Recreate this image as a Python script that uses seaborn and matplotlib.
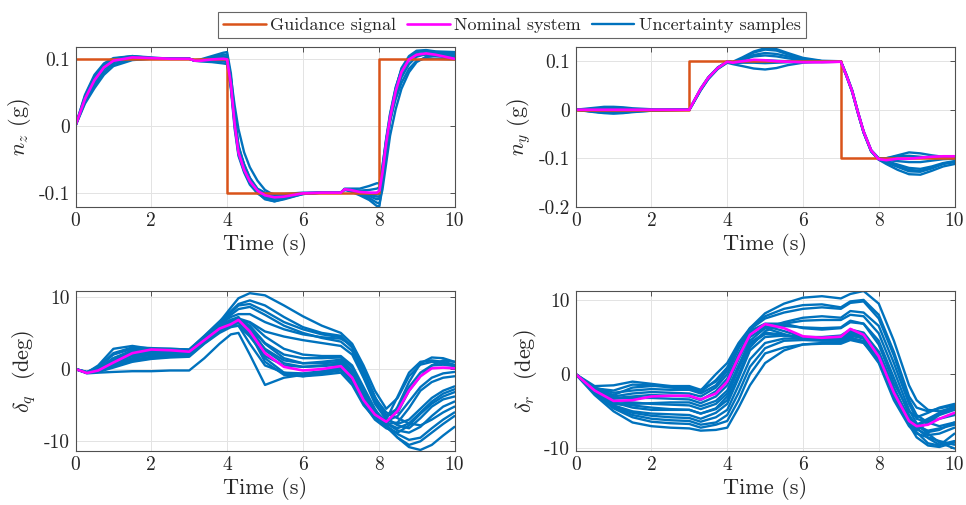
import matplotlib
matplotlib.use("Agg")
import matplotlib.pyplot as plt
from matplotlib.lines import Line2D
import pandas as pd
import seaborn as sns

# ---------------- data ----------------
# normal acceleration n_z (g)
T_NZ = [0, 0.25, 0.5, 0.75, 1.0, 1.5, 2.0, 2.5, 3.0, 3.15,
        3.3, 3.6, 3.9, 4.0, 4.1, 4.2, 4.3, 4.45, 4.6, 4.8,
        5.0, 5.25, 5.5, 6.0, 6.5, 7.0, 7.1, 7.25, 7.5, 7.75,
        7.95, 8.02, 8.1, 8.2, 8.3, 8.45, 8.6, 8.8, 9.0, 9.25,
        9.5, 10.0]
NZ_GUIDE_T = [0, 4, 4, 8, 8, 10]
NZ_GUIDE = [0.1, 0.1, -0.1, -0.1, 0.1, 0.1]
NZ_NOMINAL = [0, 0.040, 0.068, 0.087, 0.097, 0.102, 0.101, 0.100, 0.100, 0.097,
              0.097, 0.099, 0.100, 0.099, 0.062, 0.002, -0.040, -0.066, -0.083, -0.097,
              -0.104, -0.107, -0.106, -0.101, -0.100, -0.100, -0.095, -0.096, -0.099, -0.100,
              -0.100, -0.097, -0.070, -0.025, 0.012, 0.052, 0.080, 0.099, 0.106, 0.108,
              0.106, 0.100]
NZ_SAMPLES = [
    [0, 0.046, 0.076, 0.093, 0.101, 0.104, 0.101, 0.100, 0.100, 0.098,
     0.099, 0.104, 0.109, 0.110, 0.078, 0.015, -0.030, -0.060, -0.082, -0.100,
     -0.110, -0.113, -0.109, -0.102, -0.100, -0.100, -0.096, -0.098, -0.104, -0.111,
     -0.120, -0.120, -0.085, -0.035, 0.010, 0.055, 0.086, 0.104, 0.112, 0.113,
     0.111, 0.110],
    [0, 0.035, 0.060, 0.080, 0.092, 0.099, 0.100, 0.100, 0.100, 0.097,
     0.096, 0.095, 0.093, 0.092, 0.058, 0.005, -0.035, -0.058, -0.078, -0.094,
     -0.100, -0.102, -0.102, -0.100, -0.100, -0.100, -0.094, -0.094, -0.094, -0.090,
     -0.086, -0.086, -0.060, -0.020, 0.010, 0.040, 0.064, 0.085, 0.097, 0.101,
     0.100, 0.099],
    [0, 0.042, 0.070, 0.089, 0.099, 0.103, 0.101, 0.100, 0.100, 0.097,
     0.098, 0.101, 0.103, 0.103, 0.066, 0.006, -0.036, -0.064, -0.082, -0.098,
     -0.106, -0.109, -0.107, -0.101, -0.100, -0.100, -0.095, -0.097, -0.101, -0.105,
     -0.110, -0.109, -0.077, -0.030, 0.008, 0.050, 0.078, 0.098, 0.107, 0.109,
     0.108, 0.104],
    [0, 0.038, 0.064, 0.084, 0.095, 0.101, 0.101, 0.100, 0.100, 0.097,
     0.097, 0.097, 0.096, 0.095, 0.055, -0.005, -0.045, -0.070, -0.088, -0.101,
     -0.108, -0.110, -0.108, -0.101, -0.100, -0.100, -0.095, -0.095, -0.097, -0.096,
     -0.094, -0.092, -0.062, -0.018, 0.018, 0.058, 0.083, 0.100, 0.106, 0.106,
     0.104, 0.101],
    [0, 0.033, 0.056, 0.076, 0.089, 0.098, 0.100, 0.100, 0.100, 0.097,
     0.098, 0.100, 0.102, 0.101, 0.072, 0.030, -0.005, -0.040, -0.062, -0.082,
     -0.096, -0.104, -0.106, -0.102, -0.100, -0.100, -0.095, -0.097, -0.102, -0.108,
     -0.115, -0.116, -0.095, -0.055, -0.015, 0.025, 0.055, 0.080, 0.095, 0.103,
     0.105, 0.104],
    [0, 0.044, 0.073, 0.091, 0.100, 0.104, 0.102, 0.100, 0.100, 0.097,
     0.097, 0.098, 0.099, 0.098, 0.060, 0.000, -0.042, -0.068, -0.086, -0.100,
     -0.109, -0.113, -0.110, -0.102, -0.100, -0.100, -0.095, -0.096, -0.099, -0.101,
     -0.103, -0.101, -0.068, -0.022, 0.016, 0.056, 0.084, 0.102, 0.110, 0.112,
     0.110, 0.107],
    [0, 0.040, 0.066, 0.085, 0.096, 0.101, 0.100, 0.100, 0.100, 0.097,
     0.098, 0.102, 0.106, 0.106, 0.070, 0.012, -0.030, -0.058, -0.078, -0.095,
     -0.103, -0.105, -0.104, -0.101, -0.100, -0.100, -0.095, -0.096, -0.100, -0.103,
     -0.106, -0.106, -0.075, -0.028, 0.005, 0.045, 0.072, 0.092, 0.103, 0.107,
     0.108, 0.106],
]

# lateral acceleration n_y (g)
T_NY = [0, 0.5, 0.75, 1.0, 1.25, 1.5, 2.0, 2.5, 3.0, 3.15,
        3.3, 3.5, 3.75, 4.0, 4.15, 4.4, 4.7, 5.0, 5.3, 5.6,
        6.0, 6.5, 7.0, 7.15, 7.3, 7.45, 7.6, 7.8, 8.0, 8.2,
        8.5, 8.8, 9.1, 9.4, 9.7, 10.0]
NY_GUIDE_T = [0, 3, 3, 7, 7, 10]
NY_GUIDE = [0.0, 0.0, 0.1, 0.1, -0.1, -0.1]
NY_NOMINAL = [0, 0, 0, 0, 0, 0, 0, 0, 0, 0.022,
              0.043, 0.066, 0.086, 0.099, 0.097, 0.100, 0.103, 0.102, 0.100, 0.099,
              0.098, 0.098, 0.099, 0.070, 0.038, -0.005, -0.045, -0.084, -0.102, -0.104,
              -0.101, -0.101, -0.099, -0.097, -0.096, -0.096]
NY_SAMPLES = [
    [0, 0.004, 0.006, 0.006, 0.005, 0.003, 0.001, 0, 0, 0.021,
     0.042, 0.066, 0.087, 0.100, 0.099, 0.108, 0.120, 0.127, 0.125, 0.117,
     0.107, 0.101, 0.100, 0.072, 0.040, -0.004, -0.044, -0.083, -0.100, -0.100,
     -0.094, -0.088, -0.090, -0.094, -0.097, -0.098],
    [0, -0.004, -0.006, -0.007, -0.006, -0.004, -0.002, -0.001, 0, 0.020,
     0.040, 0.063, 0.084, 0.097, 0.094, 0.090, 0.085, 0.083, 0.086, 0.092,
     0.097, 0.099, 0.100, 0.071, 0.039, -0.006, -0.047, -0.086, -0.103, -0.112,
     -0.124, -0.133, -0.134, -0.126, -0.117, -0.112],
    [0, -0.003, -0.005, -0.005, -0.004, -0.003, -0.001, 0, 0, 0.022,
     0.044, 0.067, 0.087, 0.099, 0.098, 0.104, 0.113, 0.117, 0.115, 0.110,
     0.104, 0.100, 0.099, 0.069, 0.037, -0.006, -0.046, -0.085, -0.101, -0.106,
     -0.113, -0.120, -0.122, -0.117, -0.110, -0.106],
    [0, 0.002, 0.003, 0.003, 0.002, 0.001, 0, 0, 0, 0.021,
     0.042, 0.065, 0.086, 0.099, 0.098, 0.100, 0.102, 0.102, 0.101, 0.100,
     0.099, 0.098, 0.099, 0.070, 0.038, -0.005, -0.045, -0.084, -0.101, -0.100,
     -0.096, -0.095, -0.097, -0.099, -0.100, -0.100],
    [0, -0.005, -0.007, -0.008, -0.007, -0.005, -0.002, -0.001, 0, 0.020,
     0.041, 0.064, 0.085, 0.098, 0.097, 0.106, 0.118, 0.124, 0.122, 0.114,
     0.105, 0.100, 0.099, 0.069, 0.036, -0.007, -0.047, -0.086, -0.103, -0.109,
     -0.118, -0.127, -0.128, -0.121, -0.112, -0.108],
    [0, -0.002, -0.004, -0.004, -0.003, -0.002, -0.001, 0, 0, 0.022,
     0.043, 0.066, 0.086, 0.098, 0.096, 0.097, 0.097, 0.096, 0.097, 0.098,
     0.099, 0.099, 0.099, 0.070, 0.038, -0.005, -0.046, -0.085, -0.102, -0.104,
     -0.106, -0.108, -0.108, -0.105, -0.102, -0.101],
    [0, -0.004, -0.006, -0.006, -0.005, -0.003, -0.001, 0, 0, 0.021,
     0.042, 0.065, 0.086, 0.099, 0.098, 0.103, 0.110, 0.112, 0.110, 0.106,
     0.102, 0.100, 0.099, 0.070, 0.037, -0.006, -0.046, -0.085, -0.102, -0.107,
     -0.116, -0.124, -0.126, -0.120, -0.111, -0.107],
]

# pitch fin deflection delta_q (deg)
T_DQ = [0, 0.3, 0.6, 1.0, 1.5, 2.0, 2.5, 3.0, 3.4, 3.8,
        4.1, 4.3, 4.6, 5.0, 5.5, 6.0, 6.5, 7.0, 7.3, 7.6,
        7.9, 8.2, 8.5, 8.8, 9.1, 9.4, 9.7, 10.0]
DQ_NOMINAL = [0, -0.55, -0.2, 0.9, 2.2, 2.7, 2.6, 2.4, 4.0, 5.6,
              6.2, 6.8, 5.2, 2.2, 0.3, -0.2, 0.0, 0.4, -1.2, -4.3,
              -6.3, -7.3, -5.8, -3.0, -1.0, 0.1, 0.2, 0.1]
DQ_SAMPLES = [
    [0, -0.4, 0.3, 2.2, 3.0, 2.9, 2.8, 2.7, 4.5, 6.5, 8.5, 9.8, 10.5, 10.2, 8.8, 7.3, 6.0, 5.0, 3.5, 0.5, -3.0, -5.5, -4.0, -1.0, 0.6, 1.0, 0.8, 0.5],
    [0, -0.5, 0.0, 1.5, 2.6, 2.8, 2.8, 2.7, 4.6, 6.6, 8.0, 9.0, 9.5, 8.8, 7.2, 5.8, 5.0, 4.6, 3.0, -0.5, -4.0, -6.0, -6.8, -7.5, -7.8, -7.0, -6.0, -5.2],
    [0, -0.5, -0.2, 1.0, 2.0, 2.3, 2.4, 2.3, 4.2, 6.0, 7.5, 8.3, 8.6, 7.5, 6.0, 5.0, 4.3, 3.8, 2.5, -1.0, -4.5, -6.5, -6.0, -3.0, -1.0, 0.5, 1.2, 1.0],
    [0, -0.6, -0.5, -0.4, -0.3, -0.3, -0.2, -0.2, 1.5, 3.5, 4.8, 5.0, 2.0, -2.2, -1.2, -0.8, -0.4, 0.0, -1.5, -4.5, -6.8, -8.0, -9.5, -10.8, -11.2, -10.5, -9.2, -8.0],
    [0, -0.5, 0.5, 2.8, 3.2, 2.8, 2.6, 2.5, 4.0, 5.8, 6.2, 6.0, 3.5, 0.5, -0.5, -0.6, -0.3, 0.2, -1.5, -4.6, -6.8, -7.8, -5.2, -1.8, 0.8, 1.6, 1.5, 1.0],
    [0, -0.5, -0.3, 0.6, 1.5, 2.0, 2.2, 2.2, 3.8, 5.3, 6.0, 6.5, 5.8, 3.5, 1.5, 0.8, 0.8, 1.0, -0.5, -3.5, -6.0, -7.5, -8.5, -8.8, -8.0, -6.5, -5.2, -4.5],
    [0, -0.5, -0.4, 0.2, 1.0, 1.4, 1.6, 1.7, 3.5, 5.0, 5.8, 6.0, 4.5, 1.8, 0.5, 0.3, 0.5, 0.8, -0.8, -4.0, -6.5, -7.8, -9.0, -9.8, -9.5, -8.2, -7.0, -6.0],
    [0, -0.5, -0.1, 1.2, 2.3, 2.5, 2.5, 2.4, 4.3, 6.0, 6.8, 7.0, 6.5, 5.2, 4.5, 4.0, 3.6, 3.2, 2.0, -1.2, -4.8, -7.0, -7.6, -7.0, -5.5, -4.0, -3.0, -2.4],
    [0, -0.5, -0.3, 0.8, 1.8, 2.2, 2.3, 2.2, 4.0, 5.7, 6.5, 6.9, 6.0, 3.6, 2.0, 1.5, 1.5, 1.6, 0.2, -3.0, -5.8, -7.2, -6.5, -4.5, -2.5, -1.2, -0.6, -0.4],
    [0, -0.5, -0.2, 1.0, 1.8, 1.9, 2.0, 2.0, 3.8, 5.5, 6.3, 6.4, 4.8, 1.5, -0.5, -1.0, -0.8, -0.5, -2.2, -5.0, -6.8, -7.0, -3.8, -0.5, 1.0, 1.2, 1.0, 0.6],
    [0, -0.5, -0.3, 0.5, 1.3, 1.7, 1.9, 2.0, 3.6, 5.2, 6.1, 6.6, 5.4, 2.8, 1.2, 0.8, 1.0, 1.3, -0.2, -3.2, -6.0, -7.5, -8.2, -7.5, -6.0, -4.5, -3.4, -2.8],
    [0, -0.4, 0.0, 1.5, 2.4, 2.7, 2.7, 2.6, 4.4, 6.2, 7.2, 7.6, 7.6, 6.5, 5.5, 4.8, 4.4, 4.2, 3.3, 0.0, -4.0, -6.4, -5.5, -2.5, -0.5, 0.5, 0.6, 0.4],
    [0, -0.5, -0.2, 1.3, 2.4, 2.6, 2.6, 2.5, 4.2, 5.9, 6.8, 7.2, 5.0, 1.0, -0.8, -1.0, -0.6, -0.2, -1.8, -4.8, -7.0, -8.2, -8.8, -7.8, -6.2, -4.8, -3.8, -3.2],
    [0, -0.5, 0.2, 2.0, 2.8, 2.7, 2.6, 2.5, 4.3, 6.2, 7.8, 8.8, 9.0, 8.0, 6.5, 5.5, 4.8, 4.4, 3.0, -0.2, -3.8, -6.8, -7.8, -8.2, -6.8, -5.2, -4.2, -3.8],
    [0, -0.5, -0.1, 1.1, 2.1, 2.4, 2.4, 2.3, 4.1, 5.8, 6.6, 7.0, 5.8, 2.6, 0.8, 0.3, 0.4, 0.6, -1.0, -4.0, -6.6, -7.6, -7.4, -5.4, -3.0, -1.8, -1.2, -1.0],
    [0, -0.5, -0.3, 0.4, 1.1, 1.5, 1.7, 1.8, 3.6, 5.3, 6.3, 6.8, 6.4, 4.5, 2.8, 2.0, 1.8, 1.8, 0.5, -2.5, -5.5, -7.8, -9.5, -10.5, -10.0, -8.8, -7.6, -6.5],
]

# yaw fin deflection delta_r (deg)
T_DR = [0, 0.5, 1.0, 1.5, 2.0, 2.5, 3.0, 3.3, 3.7, 4.0,
        4.3, 4.6, 5.0, 5.5, 6.0, 6.5, 7.0, 7.25, 7.6, 8.0,
        8.4, 8.8, 9.0, 9.3, 9.6, 10.0]
DR_NOMINAL = [0, -2.2, -3.6, -3.5, -3.0, -2.9, -2.9, -3.4, -2.6, -1.0,
              2.3, 5.3, 6.75, 6.2, 5.1, 4.9, 5.05, 6.1, 5.3, 2.4,
              -2.5, -6.3, -7.0, -6.8, -6.0, -5.2]
DR_SAMPLES = [
    [0, -1.8, -2.5, -2.2, -2.0, -2.1, -2.1, -2.6, -1.5, 0.5, 3.5, 6.2, 8.2, 9.5, 10.3, 10.5, 10.2, 10.8, 11.2, 9.5, 4.5, -1.5, -3.5, -4.8, -5.0, -4.5],
    [0, -1.6, -1.5, -1.0, -1.3, -1.6, -1.8, -2.2, 0.0, 1.5, 4.2, 6.2, 7.8, 8.8, 9.3, 9.4, 9.0, 9.8, 10.0, 8.0, 3.0, -3.0, -4.5, -5.0, -4.6, -4.2],
    [0, -2.5, -4.5, -5.5, -6.0, -6.2, -6.3, -6.8, -6.5, -5.5, -2.5, 1.0, 3.5, 4.5, 4.6, 4.5, 4.5, 5.0, 4.3, 1.5, -3.5, -7.0, -8.0, -8.5, -9.0, -9.5],
    [0, -2.8, -5.0, -6.5, -7.0, -7.2, -7.3, -7.6, -7.5, -7.2, -4.5, -1.5, 1.5, 3.2, 4.0, 4.2, 4.3, 4.8, 4.5, 2.0, -2.5, -5.8, -6.8, -8.0, -9.2, -10.0],
    [0, -2.3, -3.8, -4.5, -4.8, -4.8, -4.8, -5.3, -4.6, -3.0, 0.8, 4.2, 5.6, 5.3, 4.8, 4.7, 4.7, 5.5, 5.0, 2.2, -3.0, -6.8, -7.5, -6.5, -5.5, -4.8],
    [0, -2.0, -3.0, -2.6, -2.4, -2.5, -2.6, -3.0, -1.8, 0.0, 3.5, 5.8, 6.8, 6.8, 6.2, 6.0, 6.2, 7.0, 6.8, 4.5, -0.5, -5.5, -7.0, -7.6, -7.3, -6.8],
    [0, -2.4, -4.2, -5.0, -5.3, -5.4, -5.5, -6.0, -5.2, -4.0, -0.5, 3.2, 5.0, 5.2, 5.0, 4.9, 4.9, 5.6, 5.2, 2.6, -2.0, -6.0, -7.2, -8.6, -9.5, -9.0],
    [0, -2.1, -3.3, -3.2, -3.2, -3.3, -3.4, -3.9, -3.0, -1.5, 2.0, 5.0, 6.3, 6.5, 6.3, 6.2, 6.3, 7.2, 6.8, 4.0, -1.2, -5.0, -5.8, -5.2, -4.5, -4.0],
    [0, -2.2, -3.9, -4.0, -3.9, -3.8, -3.8, -4.3, -3.6, -2.2, 1.2, 4.5, 6.2, 7.0, 7.6, 7.8, 7.6, 8.5, 8.3, 6.5, 1.5, -4.0, -6.0, -6.5, -6.0, -5.5],
    [0, -2.6, -4.6, -5.8, -6.4, -6.6, -6.7, -7.2, -6.8, -6.3, -3.5, 0.0, 2.8, 3.6, 4.0, 4.1, 4.1, 4.6, 4.2, 1.8, -3.2, -6.5, -7.8, -9.3, -9.6, -8.0],
    [0, -1.9, -2.8, -1.8, -1.6, -1.6, -1.6, -2.1, -1.0, 0.8, 4.0, 6.0, 6.2, 5.4, 4.7, 4.6, 4.6, 5.3, 4.9, 2.2, -3.0, -6.5, -6.8, -6.0, -5.2, -4.3],
    [0, -2.3, -4.0, -4.2, -4.5, -4.7, -4.8, -5.3, -4.7, -3.5, 0.0, 3.6, 5.8, 6.8, 7.2, 7.3, 7.3, 8.0, 7.8, 5.5, 0.5, -4.8, -6.6, -7.8, -7.5, -6.5],
    [0, -2.0, -3.2, -3.0, -2.8, -2.9, -3.0, -3.5, -2.3, -0.6, 2.8, 5.6, 6.5, 5.8, 5.0, 4.8, 4.9, 5.8, 5.4, 3.0, -1.8, -6.0, -7.4, -8.2, -8.0, -7.2],
    [0, -2.5, -4.4, -5.2, -5.6, -5.8, -5.9, -6.4, -5.8, -4.8, -1.5, 2.0, 4.2, 4.8, 4.8, 4.7, 4.7, 5.2, 4.8, 2.0, -2.8, -6.4, -7.0, -6.2, -5.4, -4.6],
    [0, -1.9, -2.2, -1.4, -1.5, -1.8, -2.0, -2.4, -0.8, 0.9, 3.8, 6.0, 7.5, 8.3, 8.8, 9.0, 8.8, 9.6, 9.8, 7.5, 2.5, -3.5, -5.5, -6.5, -7.0, -6.5],
    [0, -2.3, -3.6, -3.8, -4.0, -4.1, -4.2, -4.7, -4.0, -2.6, 0.8, 4.0, 5.4, 5.2, 5.0, 5.0, 5.2, 6.0, 5.6, 3.0, -2.0, -6.8, -8.5, -9.6, -9.8, -9.2],
]

X_TICKS = [0, 2, 4, 6, 8, 10]
LEGEND_LABELS = ["Guidance signal", "Nominal system", "Uncertainty samples"]

# ---------------- style ----------------
BLUE = "#0072BD"
ORANGE = "#D95319"
MAGENTA = "#FF00FF"

sns.set_theme(style="white")
plt.rcParams.update({
    "font.family": ["cmr10", "DejaVu Serif"],
    "mathtext.fontset": "cm",
    "axes.formatter.use_mathtext": True,
    "axes.unicode_minus": False,
})


def to_long(t, runs):
    rows = []
    for k, run in enumerate(runs):
        if len(run) != len(t):
            raise ValueError("run %d has %d points, expected %d" % (k, len(run), len(t)))
        rows.extend((ti, v, k) for ti, v in zip(t, run))
    return pd.DataFrame(rows, columns=["time", "value", "run"])


def draw_panel(ax, t, nominal, samples, ylim, yticks, ylabels, ylabel,
               guide_t=None, guide=None):
    df = to_long(t, samples)
    sns.lineplot(data=df, x="time", y="value", units="run", estimator=None,
                 sort=False, color=BLUE, lw=1.7, ax=ax, legend=False)
    if guide is not None:
        sns.lineplot(x=guide_t, y=guide, estimator=None, sort=False,
                     color=ORANGE, lw=1.8, ax=ax, legend=False)
    sns.lineplot(x=t, y=nominal, estimator=None, sort=False,
                 color=MAGENTA, lw=1.9, ax=ax, legend=False)

    ax.set_xlim(0, 10)
    ax.set_ylim(*ylim)
    ax.set_xticks(X_TICKS)
    ax.set_xticklabels([str(x) for x in X_TICKS])
    ax.set_yticks(yticks)
    ax.set_yticklabels(ylabels)
    ax.set_xlabel("Time (s)", fontsize=16, labelpad=2)
    ax.set_ylabel(ylabel, fontsize=16, labelpad=4)
    ax.grid(True, color="#e3e3e3", lw=0.7)
    ax.set_axisbelow(True)
    for s in ax.spines.values():
        s.set_color("#505050")
        s.set_linewidth(0.8)
    ax.tick_params(direction="in", length=3.5, width=0.7, color="#505050",
                   top=True, right=True, labelsize=14, pad=4,
                   labelcolor="#262626")


fig = plt.figure(figsize=(9.66, 5.05), dpi=100)
W, H = 966.0, 505.0


def add_axes(x0, x1, y_top, y_bot):
    return fig.add_axes([x0 / W, 1 - y_bot / H, (x1 - x0) / W, (y_bot - y_top) / H])


ax_nz = add_axes(75.5, 454.5, 46.7, 206.7)
ax_ny = add_axes(575.7, 954.5, 46.7, 206.7)
ax_dq = add_axes(75.5, 454.5, 291.0, 450.7)
ax_dr = add_axes(575.7, 954.5, 291.0, 450.7)

draw_panel(ax_nz, T_NZ, NZ_NOMINAL, NZ_SAMPLES, (-0.121, 0.118),
           [-0.1, 0, 0.1], ["-0.1", "0", "0.1"], r"$n_z$ (g)",
           NZ_GUIDE_T, NZ_GUIDE)
draw_panel(ax_ny, T_NY, NY_NOMINAL, NY_SAMPLES, (-0.2, 0.13),
           [-0.2, -0.1, 0, 0.1], ["-0.2", "-0.1", "0", "0.1"], r"$n_y$ (g)",
           NY_GUIDE_T, NY_GUIDE)
draw_panel(ax_dq, T_DQ, DQ_NOMINAL, DQ_SAMPLES, (-11.3, 10.8),
           [-10, 0, 10], ["-10", "0", "10"], r"$\delta_q$  (deg)")
draw_panel(ax_dr, T_DR, DR_NOMINAL, DR_SAMPLES, (-10.3, 11.2),
           [-10, 0, 10], ["-10", "0", "10"], r"$\delta_r$  (deg)")

handles = [Line2D([], [], color=ORANGE, lw=1.8),
           Line2D([], [], color=MAGENTA, lw=1.9),
           Line2D([], [], color=BLUE, lw=1.7)]
leg = fig.legend(handles, LEGEND_LABELS, loc="center", ncol=3,
                 bbox_to_anchor=(512 / W, 1 - 25 / H), fontsize=13,
                 frameon=True, fancybox=False, edgecolor="#404040",
                 handlelength=2.35, handletextpad=0.25, columnspacing=0.6,
                 borderpad=0.3, borderaxespad=0)
leg.get_frame().set_linewidth(0.8)

fig.savefig("out.png", dpi=100, facecolor="white")
